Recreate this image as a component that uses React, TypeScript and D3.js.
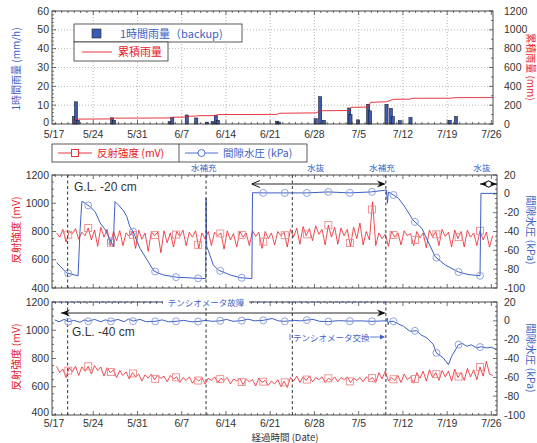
import * as d3 from "d3";
import React from "react";

const W = 537;
const H = 443;

const RED = "#e8202a";
const BLUE = "#3d5fc4";
const LRED = "#f08a8a";
const LBLUE = "#8499dc";
const INK = "#333";
const NUM_FONT = "'Liberation Sans', Arial, sans-serif";
const JP_FONT = "'Noto Sans CJK JP', 'Noto Sans', sans-serif";

// x axis: days since 5/17
const tickDays = [0, 7, 14, 21, 28, 35, 42, 49, 56, 63, 70];
const tickLabels = ["5/17", "5/24", "5/31", "6/7", "6/14", "6/21", "6/28", "7/5", "7/12", "7/19", "7/26"];

// hourly rainfall (mm/h)
const rainDays = [3.95, 4.27, 4.6, 9.97, 10.3, 19.1, 19.5, 21.8, 23.3, 25.0, 25.9, 26.4, 26.7, 36.1, 36.4, 42.2, 42.9, 43.5, 47.5, 47.7, 48.9, 50.5, 50.8, 53.4, 54.1, 54.4, 55.5, 57.2, 63.4, 64.4];
const rainValues = [4, 11.8, 2, 3.3, 2, 1.2, 3.5, 4.8, 3.2, 1, 1.2, 4.5, 2, 1.5, 1, 2.8, 14.5, 2, 8.5, 5, 2.2, 10.5, 7, 10.5, 8.3, 4, 1.8, 3.5, 2, 4];

// cumulative rainfall (mm)
const cumDays = [4.0, 4.3, 9.9, 10.3, 19.3, 19.6, 21.7, 22.0, 23.2, 23.5, 26.3, 26.7, 36.0, 36.5, 42.2, 43.0, 47.4, 47.8, 50.4, 50.9, 53.4, 54.5, 57.1, 57.5, 63.4, 64.5, 70.3];
const cumValues = [10, 52, 54, 62, 64, 72, 74, 82, 84, 88, 90, 100, 102, 114, 118, 141, 143, 177, 180, 230, 236, 262, 264, 273, 274, 280, 280];

// reflection intensity (mV), half-day samples from day 1.2
const reflStart = 1.2;
const reflStep = 0.5;
const refl20 = [
  790, 760, 815, 725, 800, 785, 820, 745, 795, 770,
  825, 740, 810, 695, 830, 760, 815, 700, 800, 735,
  805, 700, 790, 765, 800, 680, 810, 745, 790, 660,
  800, 770, 795, 650, 805, 720, 790, 690, 800, 765,
  810, 700, 795, 760, 805, 680, 790, 745, 800, 700,
  795, 770, 790, 675, 805, 740, 785, 690, 800, 760,
  790, 700, 805, 765, 795, 680, 800, 750, 790, 705,
  800, 770, 795, 690, 815, 760, 825, 710, 835, 770,
  820, 735, 840, 780, 815, 705, 845, 760, 830, 710,
  825, 770, 815, 695, 830, 750, 860, 705, 800, 740,
  1010, 700, 790, 750, 780, 695, 800, 760, 790, 705,
  805, 770, 785, 700, 800, 755, 790, 685, 810, 760,
  800, 700, 815, 765, 795, 690, 810, 750, 800, 690,
  810, 760, 790, 700, 805, 740, 795, 690, 770,
];
const refl40 = [
  745, 700, 725, 665, 735, 705, 745, 680, 740, 710,
  745, 690, 750, 715, 740, 675, 735, 700, 720, 665,
  715, 680, 705, 655, 700, 670, 690, 640, 685, 660,
  690, 650, 680, 660, 675, 635, 680, 655, 670, 630,
  665, 645, 670, 625, 660, 640, 665, 620, 660, 645,
  670, 630, 660, 645, 665, 620, 655, 640, 660, 615,
  655, 635, 650, 605, 660, 630, 645, 610, 640, 620,
  650, 600, 640, 595, 665, 640, 675, 630, 670, 645,
  675, 635, 665, 650, 670, 630, 660, 645, 670, 635,
  665, 650, 670, 630, 660, 645, 665, 635, 670, 650,
  665, 630, 700, 655, 710, 640, 665, 645, 680, 630,
  690, 650, 670, 625, 700, 660, 710, 640, 720, 665,
  700, 645, 715, 670, 710, 640, 725, 665, 700, 645,
  730, 670, 720, 650, 740, 675, 780, 690, 680,
];

// pore water pressure (kPa): [day, value]
const pw20: [number, number][] = [
  [1.2, -73], [2.8, -84], [4.6, -87], [4.9, -40], [5.2, -8], [5.6, -9.4], [6.5, -13.7], [7.3, -19],
  [8.1, -31], [8.9, -38], [9.4, -45], [10.2, -56], [10.3, -30], [10.45, -8.3], [11.0, -12], [11.8, -18],
  [12.3, -24], [12.8, -35], [13.3, -40], [14.4, -58], [15.5, -70], [16.6, -82], [18.0, -86], [20.2, -88.6],
  [23.6, -89.7], [24.8, -90], [24.85, -5], [24.95, -56], [25.2, -60], [26.0, -75.6], [26.8, -81], [28.6, -86],
  [30.2, -89], [32.1, -90], [32.2, 1.2], [33.9, 1], [37.2, 1], [40.8, 1], [44.2, 2], [47.6, 1],
  [50.9, 2], [53.4, 4], [53.55, -10], [53.7, 2], [54.5, -1.2], [55.3, -4.7], [56.1, -12], [56.6, -17],
  [57.6, -28], [59.0, -36.6], [60.0, -51], [61.1, -66.7], [62.7, -75.6], [64.8, -83], [66.3, -85.7],
  [68.2, -87], [68.35, 0.5], [70.9, 0.5],
];
const pw40: [number, number][] = [
  [0.9, 1], [1.6, -1], [2.4, 1.5], [3.05, -1], [3.9, 0.5], [4.9, -1.5], [5.6, 1], [6.2, -0.5],
  [7.2, 1.5], [8.2, -1], [8.9, 1], [9.8, -0.5], [10.9, 1.5], [11.9, -1], [12.6, 2], [13.3, -0.3],
  [14.4, 1.5], [15.4, -1], [16.8, -0.5], [17.9, 1], [18.9, -1], [20.1, -0.5], [21.3, 0.5], [22.5, -1],
  [23.6, -0.7], [24.8, 0.5], [25.8, -0.5], [27.1, 0], [28.1, 1.5], [29.1, -0.5], [30.5, 0.2], [31.5, 1.8],
  [32.5, 0], [33.9, 0.5], [35.3, 2.5], [36.3, 0], [37.3, -0.5], [38.8, 0.5], [39.8, 0], [40.8, 0.8],
  [41.8, 1.5], [42.8, -0.5], [44.2, -0.8], [45.8, 0.2], [47.6, -0.3], [49.2, 0], [51.1, -0.5], [53.4, 0],
  [53.55, 3], [53.65, -4], [53.8, -1], [54.5, -0.5], [55.2, -3], [56.1, -5.8], [57.1, -11], [58.2, -10.5],
  [58.9, -15], [59.8, -18.2], [60.8, -25], [61.3, -34], [62.4, -39.5], [63.2, -46.6], [63.7, -37.7],
  [64.8, -25.3], [65.4, -24], [66.1, -27], [66.8, -25.5], [67.7, -28.8], [68.4, -27.5], [69.3, -28.8],
  [70.0, -28], [70.8, -30.6],
];
const markerDays = [3.05, 6.2, 9.8, 13.3, 16.8, 20.1, 23.6, 27.1, 30.5, 33.9, 37.3, 40.8, 44.2, 47.6, 51.1, 54.5, 57.9, 61.3, 64.8, 68.2];

// events
const eventDays = [2.95, 24.85, 38.5, 53.3];
const eventLabelDays = [24.5, 42.2, 52.7, 68.5];
const eventLabelTexts = ["水補充", "水抜", "水補充", "水抜"];

const x = d3.scaleLinear().domain([0, 70]).range([49, 491.4]);

const TOP = { l: 52, r: 493, t: 11, b: 124 };
const MID = { l: 52, r: 497, t: 175, b: 288 };
const BOT = { l: 52, r: 497, t: 302, b: 415 };

const yRain = d3.scaleLinear().domain([0, 60]).range([TOP.b, TOP.t]);
const yCum = d3.scaleLinear().domain([0, 1200]).range([TOP.b, TOP.t]);
const yMv20 = d3.scaleLinear().domain([400, 1200]).range([MID.b, MID.t]);
const yKpa20 = d3.scaleLinear().domain([-100, 20]).range([MID.b, MID.t]);
const yMv40 = d3.scaleLinear().domain([400, 1200]).range([BOT.b, BOT.t]);
const yKpa40 = d3.scaleLinear().domain([-100, 20]).range([BOT.b, BOT.t]);

const interp = (pts: [number, number][], d: number) => {
  const i = d3.bisector((p: [number, number]) => p[0]).left(pts, d);
  if (i <= 0) return pts[0][1];
  if (i >= pts.length) return pts[pts.length - 1][1];
  const [d0, v0] = pts[i - 1];
  const [d1, v1] = pts[i];
  return v0 + ((v1 - v0) * (d - d0)) / (d1 - d0);
};

const reflPts = (vals: number[]) => vals.map((v, i) => [reflStart + i * reflStep, v] as [number, number]);

function Frame({ p, yL, yR, lMajor, lMinor, rMajor, rMinor }: any) {
  const lines: any[] = [];
  // x ticks on top and bottom
  for (let d = 0; d <= 71; d++) {
    const xx = x(d);
    if (xx <= p.l + 0.5 || xx >= p.r - 0.5) continue;
    const len = d % 7 === 0 ? 4 : 2;
    lines.push(<line key={"xb" + d} x1={xx} x2={xx} y1={p.b} y2={p.b - len} />);
    lines.push(<line key={"xt" + d} x1={xx} x2={xx} y1={p.t} y2={p.t + len} />);
  }
  const [l0, l1] = yL.domain();
  for (let v = l0; v <= l1 + 1e-6; v += lMinor) {
    const len = Math.abs(v % lMajor) < 1e-6 ? 4 : 2;
    lines.push(<line key={"yl" + v} x1={p.l} x2={p.l + len} y1={yL(v)} y2={yL(v)} />);
  }
  const [r0, r1] = yR.domain();
  for (let v = r0; v <= r1 + 1e-6; v += rMinor) {
    const len = Math.abs(v % rMajor) < 1e-6 ? 4 : 2;
    lines.push(<line key={"yr" + v} x1={p.r} x2={p.r - len} y1={yR(v)} y2={yR(v)} />);
  }
  return (
    <g stroke={INK} strokeWidth={0.7} fill="none">
      {lines}
      <rect x={p.l} y={p.t} width={p.r - p.l} height={p.b - p.t} strokeWidth={0.9} />
    </g>
  );
}

function YLabels({ p, yL, lMajor, yR, rMajor, lift = 0 }: any) {
  const [l0, l1] = yL.domain();
  const [r0, r1] = yR.domain();
  return (
    <g fontFamily={NUM_FONT} fontSize={10.5} fill={INK}>
      {d3.range(l0, l1 + 1e-6, lMajor).map((v, i) => (
        <text key={"l" + v} x={p.l - 3} y={yL(v) + 3.5 - (i === 0 ? lift : 0)} textAnchor="end">{v}</text>
      ))}
      {d3.range(r0, r1 + 1e-6, rMajor).map((v) => (
        <text key={"r" + v} x={504} y={yR(v) + 3.5}>{v}</text>
      ))}
    </g>
  );
}

function XLabels({ y }: { y: number }) {
  return (
    <g fontFamily={NUM_FONT} fontSize={10.5} fill={INK} textAnchor="middle">
      {tickDays.map((d, i) => (
        <text key={d} x={Math.max(x(d), 54)} y={y}>{tickLabels[i]}</text>
      ))}
    </g>
  );
}

function Series({ pts, yS, color, width, clip }: any) {
  const line = d3.line<[number, number]>().x((d) => x(d[0])).y((d) => yS(d[1]));
  return <path d={line(pts) || ""} fill="none" stroke={color} strokeWidth={width} clipPath={`url(#${clip})`} strokeLinejoin="round" />;
}

function Markers({ pts, yS, kind, color }: any) {
  return (
    <g fill="none" stroke={color} strokeWidth={0.9}>
      {markerDays.map((d) => {
        const cx = x(d);
        const cy = yS(interp(pts, d));
        return kind === "circle" ? (
          <circle key={d} cx={cx} cy={cy} r={3.5} />
        ) : (
          <rect key={d} x={cx - 3.5} y={cy - 3.5} width={7} height={7} />
        );
      })}
    </g>
  );
}

function ArrowHead({ x0, y0, dir, open }: any) {
  const s = dir;
  if (open) {
    return <path d={`M${x0 + s * 8},${y0 - 3.5} L${x0},${y0} L${x0 + s * 8},${y0 + 3.5}`} fill="none" stroke="#111" strokeWidth={1} />;
  }
  return <path d={`M${x0},${y0} L${x0 + s * 9},${y0 - 3.5} L${x0 + s * 6},${y0} L${x0 + s * 9},${y0 + 3.5} Z`} fill="#111" />;
}

export default function App() {
  const r20 = reflPts(refl20);
  const r40 = reflPts(refl40);
  const rainPts = cumDays.map((d, i) => [d, cumValues[i]] as [number, number]);

  return (
    <svg width={W} height={H} style={{ position: "absolute", left: 0, top: 0, background: "#fff" }}>
      <defs>
        {[["cTop", TOP], ["cMid", MID], ["cBot", BOT]].map(([id, p]: any) => (
          <clipPath id={id} key={id}>
            <rect x={p.l} y={p.t} width={p.r - p.l} height={p.b - p.t} />
          </clipPath>
        ))}
      </defs>

      {/* ---------- top panel: rainfall ---------- */}
      <g stroke="#999" strokeWidth={0.7} strokeDasharray="1 2">
        {d3.range(10, 60, 10).map((v) => (
          <line key={"gh" + v} x1={TOP.l} x2={TOP.r} y1={yRain(v)} y2={yRain(v)} />
        ))}
        {tickDays.slice(1, -1).map((d) => (
          <line key={"gv" + d} x1={x(d)} x2={x(d)} y1={TOP.t} y2={TOP.b} />
        ))}
      </g>
      <g fill="#3b5bb5" stroke="#111" strokeWidth={0.5}>
        {rainDays.map((d, i) => (
          <rect key={i} x={x(d) - 1.6} y={yRain(rainValues[i])} width={3.2} height={yRain(0) - yRain(rainValues[i])} />
        ))}
      </g>
      <Series pts={rainPts} yS={yCum} color={RED} width={0.9} clip="cTop" />
      <Frame p={TOP} yL={yRain} yR={yCum} lMajor={10} lMinor={2} rMajor={200} rMinor={100} />
      <YLabels p={TOP} yL={yRain} lMajor={10} yR={yCum} rMajor={200} lift={1.5} />
      <XLabels y={138} />

      {/* top legend */}
      <g fill="#fff" stroke={INK} strokeWidth={0.8}>
        <rect x={74} y={24} width={168} height={18} />
        <rect x={74} y={42} width={94} height={19} />
      </g>
      <rect x={92} y={29} width={9} height={9} fill="#3b5bb5" stroke="#222" strokeWidth={0.6} />
      <text x={120} y={37.5} fontFamily={JP_FONT} fontSize={11} fill={BLUE}>1時間雨量（backup)</text>
      <line x1={82} x2={112} y1={52} y2={52} stroke={RED} strokeWidth={0.9} />
      <text x={118} y={56} fontFamily={JP_FONT} fontSize={11} fill={RED}>累積雨量</text>

      <text transform={`translate(15,69) rotate(-90)`} textAnchor="middle" dominantBaseline="central" fontFamily={JP_FONT} fontSize={10} fill={BLUE}>1時間雨量 (mm/h)</text>
      <text transform={`translate(531,67) rotate(90)`} textAnchor="middle" dominantBaseline="central" fontFamily={JP_FONT} fontSize={10} fill={RED}>累積雨量 (mm)</text>

      {/* middle legend */}
      <g fill="#fff" stroke={INK} strokeWidth={0.8}>
        <rect x={52} y={144} width={255} height={18} />
        <line x1={179} x2={179} y1={144} y2={162} />
      </g>
      <line x1={58} x2={92} y1={153} y2={153} stroke={RED} strokeWidth={0.9} />
      <rect x={71.5} y={149.5} width={7} height={7} fill="#fff" stroke={RED} strokeWidth={0.9} />
      <text x={97} y={157} fontFamily={JP_FONT} fontSize={10.5} fill={RED}>反射強度 (mV)</text>
      <line x1={185} x2={218} y1={153} y2={153} stroke={BLUE} strokeWidth={0.9} />
      <circle cx={201.5} cy={153} r={3.5} fill="#fff" stroke={BLUE} strokeWidth={0.9} />
      <text x={223} y={157} fontFamily={JP_FONT} fontSize={10.5} fill={BLUE}>間隙水圧 (kPa)</text>

      {/* event labels */}
      <g fontFamily={JP_FONT} fontSize={8.5} fill={BLUE} textAnchor="middle">
        {eventLabelDays.map((d, i) => (
          <text key={i} x={x(d)} y={171}>{eventLabelTexts[i]}</text>
        ))}
      </g>

      {/* ---------- middle panel: G.L. -20 cm ---------- */}
      <Series pts={r20} yS={yMv20} color={RED} width={0.8} clip="cMid" />
      <Markers pts={r20} yS={yMv20} kind="square" color={LRED} />
      <Series pts={pw20} yS={yKpa20} color={BLUE} width={1} clip="cMid" />
      <Markers pts={pw20} yS={yKpa20} kind="circle" color={LBLUE} />
      <g stroke="#333" strokeWidth={1} strokeDasharray="3 2.5">
        {eventDays.map((d) => (
          <line key={"m" + d} x1={x(d)} x2={x(d)} y1={MID.t} y2={MID.b} />
        ))}
        {eventDays.map((d) => (
          <line key={"b" + d} x1={x(d)} x2={x(d)} y1={BOT.t} y2={BOT.b} />
        ))}
      </g>
      <Frame p={MID} yL={yMv20} yR={yKpa20} lMajor={200} lMinor={50} rMajor={20} rMinor={5} />
      <YLabels p={MID} yL={yMv20} lMajor={200} yR={yKpa20} rMajor={20} />
      <text x={74} y={191} fontFamily={NUM_FONT} fontSize={12} fill={INK}>G.L. -20 cm</text>

      {/* arrows */}
      <line x1={x(32.1)} x2={x(53.3) - 2} y1={184} y2={184} stroke="#111" strokeWidth={0.9} />
      <ArrowHead x0={x(32.1)} y0={184} dir={1} open />
      <ArrowHead x0={x(53.3)} y0={184} dir={-1} />
      <line x1={480} x2={497} y1={184} y2={184} stroke="#111" strokeWidth={0.9} />
      <ArrowHead x0={480} y0={184} dir={1} />
      <ArrowHead x0={497} y0={184} dir={-1} />
      <circle cx={488.5} cy={184} r={3} fill="#fff" stroke="#111" strokeWidth={1} />

      <text transform={`translate(15,230) rotate(-90)`} textAnchor="middle" dominantBaseline="central" fontFamily={JP_FONT} fontSize={10.5} fill={RED}>反射強度 (mV)</text>
      <text transform={`translate(531,230) rotate(90)`} textAnchor="middle" dominantBaseline="central" fontFamily={JP_FONT} fontSize={10.5} fill={BLUE}>間隙水圧 (kPa)</text>

      {/* ---------- bottom panel: G.L. -40 cm ---------- */}
      <Series pts={r40} yS={yMv40} color={RED} width={0.8} clip="cBot" />
      <Markers pts={r40} yS={yMv40} kind="square" color={LRED} />
      <Series pts={pw40} yS={yKpa40} color={BLUE} width={1} clip="cBot" />
      <Markers pts={pw40} yS={yKpa40} kind="circle" color={LBLUE} />
      <Frame p={BOT} yL={yMv40} yR={yKpa40} lMajor={200} lMinor={50} rMajor={20} rMinor={5} />
      <YLabels p={BOT} yL={yMv40} lMajor={200} yR={yKpa40} rMajor={20} lift={3} />
      <text x={72} y={336} fontFamily={NUM_FONT} fontSize={12} fill={INK}>G.L. -40 cm</text>

      <line x1={x(1.9)} x2={x(53.3) - 2} y1={313} y2={313} stroke="#111" strokeWidth={0.9} />
      <ArrowHead x0={x(1.9)} y0={313} dir={1} />
      <ArrowHead x0={x(53.3)} y0={313} dir={-1} />

      <line x1={53} x2={386} y1={302} y2={302} stroke={BLUE} strokeWidth={0.9} strokeDasharray="3 3" />
      <rect x={163} y={296} width={86} height={12} fill="#fff" />
      <text x={206} y={305.5} textAnchor="middle" fontFamily={JP_FONT} fontSize={8.5} fill={BLUE}>テンシオメータ故障</text>

      <line x1={290} x2={290} y1={334} y2={340} stroke={BLUE} strokeWidth={0.8} />
      <text x={293} y={340.5} fontFamily={JP_FONT} fontSize={8.5} fill={BLUE}>テンシオメータ交換</text>
      <line x1={370} x2={384} y1={337} y2={337} stroke={BLUE} strokeWidth={0.8} />
      <path d="M385,337 L380,334.5 L380,339.5 Z" fill={BLUE} />

      <text transform={`translate(15,357) rotate(-90)`} textAnchor="middle" dominantBaseline="central" fontFamily={JP_FONT} fontSize={10.5} fill={RED}>反射強度 (mV)</text>
      <text transform={`translate(531,358) rotate(90)`} textAnchor="middle" dominantBaseline="central" fontFamily={JP_FONT} fontSize={10.5} fill={BLUE}>間隙水圧 (kPa)</text>

      <XLabels y={427} />
      <text x={285} y={440.5} textAnchor="middle" fontFamily={JP_FONT} fontSize={9.5} fill={INK}>経過時間 (Date)</text>
    </svg>
  );
}
